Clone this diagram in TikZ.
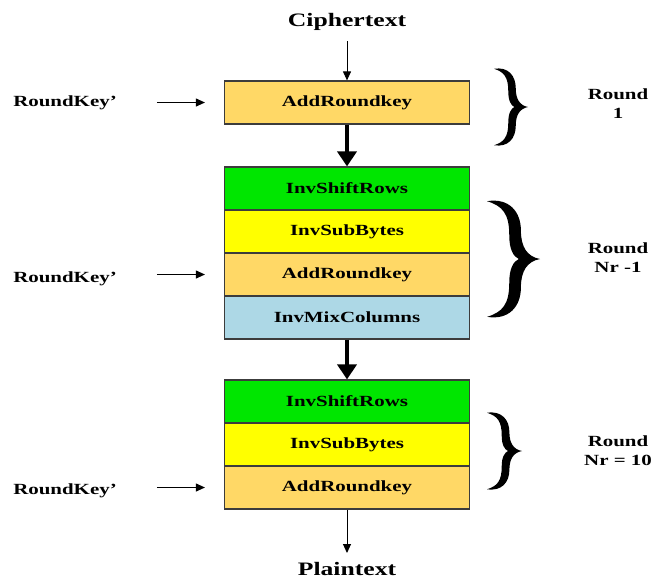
\documentclass[tikz,border=0pt]{standalone}
\usepackage{fontspec}
\setmainfont{Liberation Serif}[FakeStretch=1.35]
\usetikzlibrary{arrows.meta}
\definecolor{keyor}{RGB}{255,216,102}
\definecolor{shiftgr}{RGB}{0,230,0}
\definecolor{subyel}{RGB}{255,255,0}
\definecolor{mixbl}{RGB}{173,216,230}
\definecolor{edgegr}{RGB}{60,60,60}
% calligraphic right brace: left x, top y, width, height
\newcommand{\mybrace}[4]{%
  \begin{scope}[shift={(#1,#2)}, xscale=#3, yscale=#4]
    \fill[black]
      (0,0.01) .. controls (0.42,-0.02) and (0.64,0.1) .. (0.64,0.26)
      .. controls (0.64,0.40) and (0.76,0.48) .. (1,0.5)
      .. controls (0.76,0.52) and (0.64,0.60) .. (0.64,0.74)
      .. controls (0.64,0.90) and (0.42,1.02) .. (0,0.99)
      .. controls (0.30,0.95) and (0.42,0.88) .. (0.42,0.70)
      .. controls (0.42,0.58) and (0.50,0.52) .. (0.60,0.5)
      .. controls (0.50,0.48) and (0.42,0.42) .. (0.42,0.30)
      .. controls (0.42,0.12) and (0.30,0.05) .. (0,0.01) -- cycle;
  \end{scope}}
\begin{document}
\begin{tikzpicture}[x=1pt,y=-1pt,
  stage/.style={draw=edgegr, line width=1.2pt, minimum width=245pt, minimum height=43pt,
    inner sep=0pt, font=\bfseries\fontsize{15.5}{18}\selectfont},
  keybox/.style={stage, fill=keyor},
  shiftbox/.style={stage, fill=shiftgr},
  subbox/.style={stage, fill=subyel},
  mixbox/.style={stage, fill=mixbl},
  lbl/.style={inner sep=0pt, font=\bfseries\fontsize{15.5}{19}\selectfont, align=center},
  io/.style={inner sep=0pt, font=\bfseries\fontsize{19}{22}\selectfont},
  thinarr/.style={line width=1pt, -{Triangle[length=9pt,width=8pt]}},
  thickarr/.style={line width=4.5pt, -{Triangle[length=15pt,width=19pt]}}
]
\useasboundingbox (0,0) rectangle (652,579);

% input / output
\node[io] (ct) at (347,22) {Ciphertext};
\node[io] (pt) at (347,569) {Plaintext};

% round 1
\node[keybox] (a1) at (347,102.5) {AddRoundkey};

% round Nr-1
\node[shiftbox] (s2) at (347,188.5) {InvShiftRows};
\node[subbox]   (b2) at (347,231.5) {InvSubBytes};
\node[keybox]   (k2) at (347,274.5) {AddRoundkey};
\node[mixbox]   (m2) at (347,317.5) {InvMixColumns};

% final round
\node[shiftbox] (s3) at (347,401.5) {InvShiftRows};
\node[subbox]   (b3) at (347,444.5) {InvSubBytes};
\node[keybox]   (k3) at (347,487.5) {AddRoundkey};

% round keys
\node[lbl] (rk1) at (65,103) {RoundKey’};
\node[lbl] (rk2) at (65,279) {RoundKey’};
\node[lbl] (rk3) at (65,491) {RoundKey’};
\coordinate (rk1s) at ([xshift=-67pt]a1.west);
\coordinate (rk1e) at ([xshift=-19pt]a1.west);
\coordinate (rk2s) at ([xshift=-67pt]k2.west);
\coordinate (rk2e) at ([xshift=-19pt]k2.west);
\coordinate (rk3s) at ([xshift=-67pt]k3.west);
\coordinate (rk3e) at ([xshift=-19pt]k3.west);
\draw[thinarr] (rk1s) -- (rk1e);
\draw[thinarr] (rk2s) -- (rk2e);
\draw[thinarr] (rk3s) -- (rk3e);

% flow arrows
\coordinate (ctout) at (347,41);
\coordinate (ptin) at (347,553);
\draw[thinarr] (ctout) -- (a1.north);
\draw[thickarr] (a1.south) -- (s2.north);
\draw[thickarr] (m2.south) -- (s3.north);
\draw[thinarr] (k3.south) -- (ptin);

% braces
\mybrace{494}{68}{34}{78}
\mybrace{487}{200}{53}{118}
\mybrace{487}{412}{35}{78}

% round labels
\node[lbl] (r1) at (618,104) {Round\\1};
\node[lbl] (r2) at (618,258) {Round\\Nr -1};
\node[lbl] (r3) at (618,451) {Round\\Nr = 10};
\end{tikzpicture}
\end{document}
